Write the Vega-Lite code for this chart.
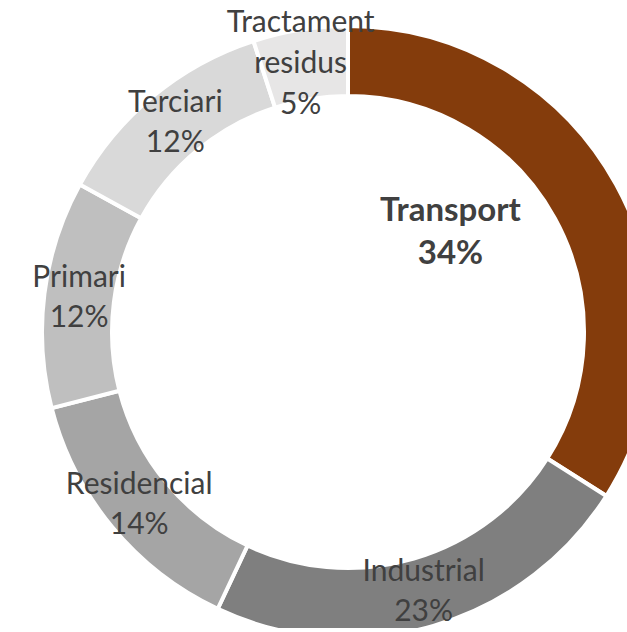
{
  "$schema": "https://vega.github.io/schema/vega-lite/v6.json",
  "autosize": "none",
  "padding": {"left": 69, "top": 36, "right": 0, "bottom": 0},
  "width": 558,
  "height": 592,
  "background": "white",
  "view": {"stroke": null},
  "data": {
    "values": [
      {"k": 1, "name": "Transport", "value": 34, "label": "Transport\n34%"},
      {"k": 2, "name": "Industrial", "value": 23, "label": "Industrial\n23%"},
      {"k": 3, "name": "Residencial", "value": 14, "label": "Residencial\n14%"},
      {"k": 4, "name": "Primari", "value": 12, "label": "Primari\n12%"},
      {"k": 5, "name": "Terciari", "value": 12, "label": "Terciari\n12%"},
      {"k": 6, "name": "Tractament residus", "value": 5, "label": "Tractament\nresidus\n5%"}
    ]
  },
  "encoding": {
    "theta": {"field": "value", "type": "quantitative", "stack": true},
    "order": {"field": "k", "type": "quantitative"}
  },
  "layer": [
    {
      "mark": {"type": "arc", "radius": 306, "radius2": 236, "stroke": "white", "strokeWidth": 4},
      "encoding": {
        "color": {
          "field": "name",
          "type": "nominal",
          "scale": {
            "domain": ["Transport", "Industrial", "Residencial", "Primari", "Terciari", "Tractament residus"],
            "range": ["#843C0C", "#7F7F7F", "#A5A5A5", "#BFBFBF", "#D9D9D9", "#E7E6E6"]
          },
          "legend": null
        }
      }
    },
    {
      "mark": {"type": "text", "radius": 271, "dy": -20, "font": "Lato", "fontSize": 30, "color": "#404040", "lineBreak": "\n", "lineHeight": 40, "align": "center", "baseline": "middle"},
      "encoding": {
        "text": {"condition": {"test": "datum.name !== 'Transport' && datum.name !== 'Tractament residus'", "field": "label"}, "value": ""}
      }
    },
    {
      "mark": {"type": "text", "radius": 271, "dx": -5, "dy": -41, "font": "Lato", "fontSize": 30, "color": "#404040", "lineBreak": "\n", "lineHeight": 41, "align": "center", "baseline": "middle"},
      "encoding": {
        "text": {"condition": {"test": "datum.name === 'Tractament residus'", "field": "label"}, "value": ""}
      }
    },
    {
      "mark": {"type": "text", "radius": 150, "dx": -29, "dy": -49, "font": "Lato", "fontSize": 33, "fontWeight": "bold", "color": "#404040", "lineBreak": "\n", "lineHeight": 43, "align": "center", "baseline": "middle"},
      "encoding": {
        "text": {"condition": {"test": "datum.name === 'Transport'", "field": "label"}, "value": ""}
      }
    }
  ]
}
